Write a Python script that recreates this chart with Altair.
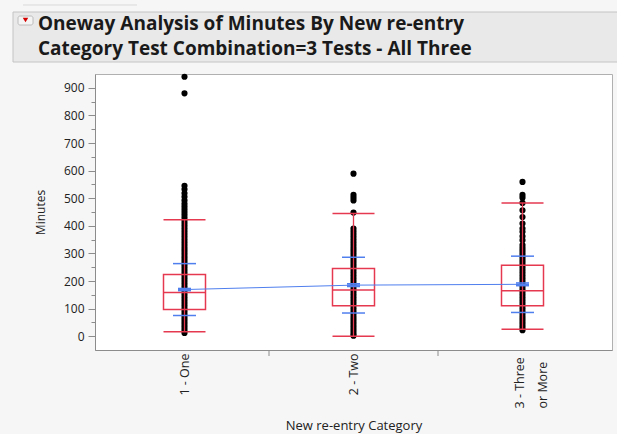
import altair as alt
import pandas as pd

# ---------------- data ----------------
categories = ["1 - One", "2 - Two", "3 - Three\nor More"]
cat_index = [1, 2, 3]

g1_points = [940, 880, 545, 532, 518, 505, 492, 480, 470, 460, 450, 440, 430, 420, 410, 400,
             390, 380, 370, 360, 350, 340, 330, 320, 310, 300, 290, 280, 270, 260, 250, 240,
             230, 220, 210, 200, 190, 180, 170, 160, 150, 140, 130, 120, 110, 100, 90, 80,
             70, 60, 50, 40, 30, 20, 12]
g2_points = [589, 512, 502, 492, 448, 390, 380, 370, 360, 350, 340, 330, 320, 310, 300, 290,
             280, 270, 260, 250, 240, 230, 220, 210, 200, 190, 180, 170, 160, 150, 140, 130,
             120, 110, 100, 90, 80, 70, 60, 50, 40, 30, 20, 10, 2]
g3_points = [559, 512, 502, 483, 456, 432, 408, 390, 378, 362, 348, 330, 320, 310, 300, 290,
             280, 270, 260, 250, 240, 230, 220, 210, 200, 190, 180, 170, 160, 150, 140, 130,
             120, 110, 100, 90, 80, 70, 60, 50, 40, 30, 22]

whisker_low = [16, 0, 25]
q1 = [97, 110, 110]
median = [158, 167, 165]
q3 = [224, 245, 257]
whisker_high = [422, 445, 483]
means = [169, 185, 188]
sd = [94, 101, 102]
se = [4, 5, 5]

between_ticks = [1.5, 2.5]
y_ticks = [0, 50, 100, 150, 200, 250, 300, 350, 400, 450, 500, 550, 600, 650, 700, 750, 800, 850, 900]

title_lines = ["Oneway Analysis of Minutes By New re-entry",
               "Category Test Combination=3 Tests - All Three"]

# ---------------- tables ----------------
pts = pd.DataFrame(
    [{"idx": i, "value": v} for i, g in zip(cat_index, [g1_points, g2_points, g3_points]) for v in g]
)
stats = pd.DataFrame({
    "idx": cat_index, "lo": whisker_low, "q1": q1, "med": median, "q3": q3, "hi": whisker_high,
    "mean": means,
    "sd_hi": [m + s for m, s in zip(means, sd)], "sd_lo": [m - s for m, s in zip(means, sd)],
    "se_hi": [m + s for m, s in zip(means, se)], "se_lo": [m - s for m, s in zip(means, se)],
})
ticks_df = pd.DataFrame({"idx": between_ticks})

RED = "#e5394f"
BLUE = "#4f7fee"
FONT = "Open Sans"

xscale = alt.Scale(domain=[0.5, 3.5], nice=False, zero=False)
yscale = alt.Scale(domain=[-50, 950], nice=False, zero=False)


def js_label(c):
    parts = c.split("\n")
    if len(parts) == 1:
        return "'" + c + "'"
    return "[" + ", ".join("'" + p + "'" for p in parts) + "]"


label_expr = " : ".join(
    f"datum.value == {i} ? {js_label(c)}" for i, c in zip(cat_index, categories)
) + " : ''"
multi = [i for i, c in zip(cat_index, categories) if "\n" in c]
multi_test = " || ".join(f"datum.value == {i}" for i in multi) or "false"

xaxis = alt.Axis(
    values=cat_index, labelExpr=label_expr, ticks=False, grid=False,
    labelAngle=270,
    labelAlign={"condition": {"test": multi_test, "value": "left"}, "value": "right"},
    labelPadding={"condition": {"test": multi_test, "value": 58}, "value": 3},
    labelOffset={"condition": {"test": multi_test, "value": -3}, "value": 0},
    labelBaseline="middle",
    labelFont=FONT, labelFontSize=12.5, labelColor="#222222", labelLineHeight=23,
    domainColor="#8c8c8c", title="New re-entry Category", titleFont=FONT,
    titleFontSize=13, titleFontWeight="normal", titleColor="#222222",
    titleY=79, titleBaseline="alphabetic",
)
yaxis = alt.Axis(
    values=y_ticks, grid=False,
    labelExpr="datum.value % 100 === 0 ? datum.label : ''",
    tickSize={"condition": {"test": "datum.value % 100 === 0", "value": 7}, "value": 4},
    tickColor="#8c8c8c", domainColor="#8c8c8c", labelPadding=4,
    labelFont=FONT, labelFontSize=12, labelColor="#222222",
    title="Minutes", titleFont=FONT, titleFontSize=12, titleFontWeight="normal",
    titleColor="#222222", titlePadding=16,
)

X = lambda f="idx": alt.X(f"{f}:Q", scale=xscale, axis=xaxis)
Y = lambda f: alt.Y(f"{f}:Q", scale=yscale, axis=yaxis)

points = alt.Chart(pts).mark_circle(size=38, color="black", opacity=1).encode(x=X(), y=Y("value"))

whisk = alt.Chart(stats).mark_rule(color=RED, strokeWidth=1.3).encode(x=X(), y=Y("lo"), y2="hi")
box = alt.Chart(stats).mark_bar(size=42, fillOpacity=0, stroke=RED, strokeWidth=1.5).encode(
    x=X(), y=Y("q1"), y2="q3")
caps = [
    alt.Chart(stats).mark_tick(orient="horizontal", size=42, thickness=1.5, color=RED, opacity=1)
    .encode(x=X(), y=Y(f)) for f in ["lo", "hi", "med"]
]
sd_ticks = [
    alt.Chart(stats).mark_tick(orient="horizontal", size=23, thickness=1.5, color=BLUE, opacity=1)
    .encode(x=X(), y=Y(f)) for f in ["sd_lo", "sd_hi"]
]
se_ticks = [
    alt.Chart(stats).mark_tick(orient="horizontal", size=13, thickness=1.5, color=BLUE, opacity=1)
    .encode(x=X(), y=Y(f)) for f in ["se_lo", "se_hi", "mean"]
]
mean_line = alt.Chart(stats).mark_line(color=BLUE, strokeWidth=1).encode(x=X(), y=Y("mean"))

xticks = alt.Chart(ticks_df).mark_rule(color="#8c8c8c", strokeWidth=1).encode(
    x=X(), y=alt.value(276), y2=alt.value(282))

# title box decoration
one = pd.DataFrame({"k": [0]})
top_line = alt.Chart(one).mark_rule(color="#d9d9d9").encode(
    x=alt.value(-72), x2=alt.value(42), y=alt.value(-69))
title_box = alt.Chart(one).mark_rect(fill="#e9e9e9", stroke="#c4c4c4", strokeWidth=1).encode(
    x=alt.value(-82), x2=alt.value(540), y=alt.value(-62), y2=alt.value(-12))
icon_box = alt.Chart(one).mark_rect(fill="#f4f4f4", stroke="#b0b0b0", strokeWidth=0.8,
                                    cornerRadius=2).encode(
    x=alt.value(-77), x2=alt.value(-62), y=alt.value(-58), y2=alt.value(-49))
icon = alt.Chart(one).mark_point(shape="triangle-down", filled=True, color="#d40000", size=30,
                                 opacity=1).encode(x=alt.value(-69.5), y=alt.value(-54))
title_texts = [
    alt.Chart(pd.DataFrame({"t": [line]})).mark_text(
        font=FONT, fontSize=19, fontWeight="bold", color="#1a1a1a", align="left",
        baseline="alphabetic"
    ).encode(x=alt.value(-57), y=alt.value(yv), text="t:N")
    for line, yv in zip(title_lines, [-44, -19])
]

chart = alt.layer(
    title_box, top_line, icon_box, icon,
    points, whisk, box, *caps, mean_line, *sd_ticks, *se_ticks, xticks,
    *title_texts,
).properties(
    width=517, height=276,
    autosize=alt.AutoSizeParams(type="none"),
    padding={"left": 95, "top": 74, "right": 5, "bottom": 84},
    background="#f6f6f6",
).configure_view(fill="white", stroke="#b0b0b0")

chart.save("out.html", embed_options={"renderer": "svg", "actions": False})
